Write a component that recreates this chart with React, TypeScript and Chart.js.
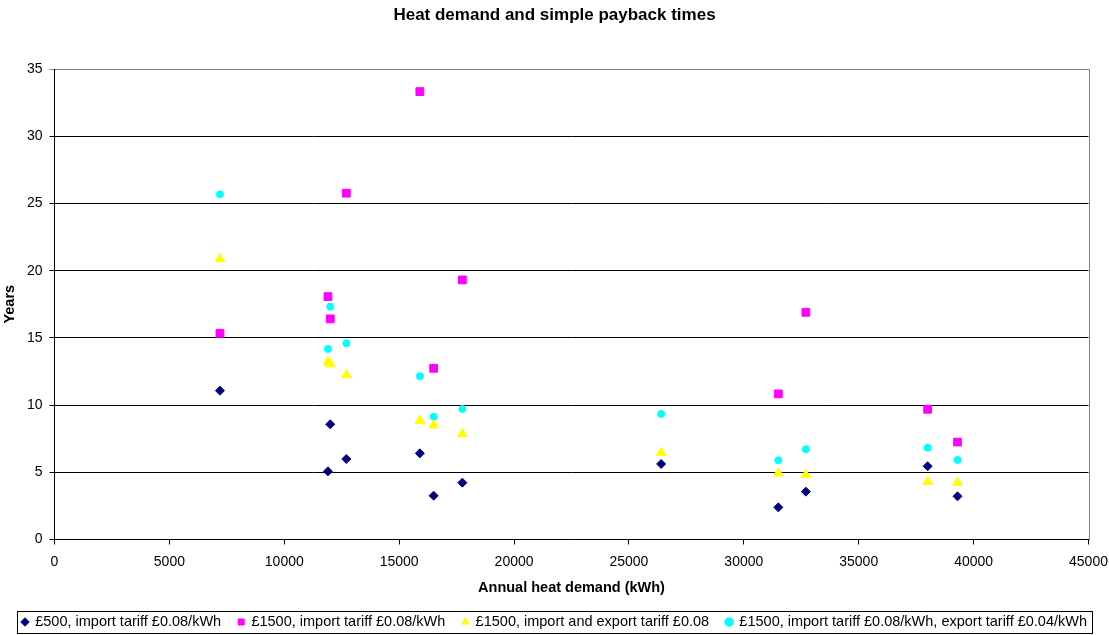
import React, { useEffect, useRef } from 'react';
import { Chart, registerables } from 'chart.js';

Chart.register(...registerables);

const heatDemand = [7200, 11900, 12000, 12700, 15900, 16500, 17750, 26400, 31500, 32700, 38000, 39300];
const payback500Import = [11.07, 5.07, 8.57, 5.99, 6.41, 3.26, 4.23, 5.62, 2.39, 3.56, 5.45, 3.21];
const payback1500Import = [15.34, 18.07, 16.41, 25.76, 33.32, 12.74, 19.31, null, 10.83, 16.9, 9.69, 7.25];
const payback1500ImportExport = [20.87, 13.2, 13.05, 12.24, 8.84, 8.5, 7.85, 6.46, 4.93, 4.8, 4.3, 4.23];
const payback1500ImportExport004 = [25.68, 14.17, 17.32, 14.6, 12.14, 9.14, 9.71, 9.34, 5.89, 6.71, 6.83, 5.92];

const seriesLabels = [
  '£500, import tariff £0.08/kWh',
  '£1500, import tariff £0.08/kWh',
  '£1500, import and export tariff £0.08',
  '£1500, import tariff £0.08/kWh, export tariff £0.04/kWh',
];

const chartTitle = 'Heat demand and simple payback times';
const xTitle = 'Annual heat demand (kWh)';
const yTitle = 'Years';
const xMin = 0, xMax = 45000, xStep = 5000;
const yMin = 0, yMax = 35, yStep = 5;

const FONT = '"Liberation Sans", Arial, sans-serif';

const toPoints = (ys: (number | null)[]) =>
  heatDemand.map((x, i) => ({ x, y: ys[i] })).filter((p) => p.y !== null);

const plotBorder = {
  id: 'plotBorder',
  beforeDatasetsDraw(chart: any) {
    const { ctx, chartArea } = chart;
    ctx.save();
    ctx.strokeStyle = '#808080';
    ctx.lineWidth = 1;
    const r = Math.round(chartArea.right) + 0.5;
    const t = Math.round(chartArea.top) + 0.5;
    ctx.beginPath();
    ctx.moveTo(Math.round(chartArea.left), t);
    ctx.lineTo(r, t);
    ctx.lineTo(r, Math.round(chartArea.bottom));
    ctx.stroke();
    ctx.restore();
  },
};

const legendBorder = {
  id: 'legendBorder',
  afterDraw(chart: any) {
    const lg = chart.legend;
    const hb = lg && lg.legendHitBoxes;
    if (!hb || !hb.length) return;
    let l = Infinity, r = -Infinity, t = Infinity, b = -Infinity;
    hb.forEach((h: any) => {
      l = Math.min(l, h.left);
      r = Math.max(r, h.left + h.width);
      t = Math.min(t, h.top);
      b = Math.max(b, h.top + h.height);
    });
    const { ctx } = chart;
    ctx.save();
    ctx.strokeStyle = '#000';
    ctx.lineWidth = 1;
    ctx.strokeRect(Math.round(l - 5) + 0.5, Math.round(t - 3.5) + 0.5, Math.round(r - l + 10), Math.round(b - t + 7));
    ctx.restore();
  },
};

export default function App() {
  const ref = useRef<HTMLCanvasElement | null>(null);

  useEffect(() => {
    if (!ref.current) return;
    const mk = (label: string, ys: (number | null)[], color: string, style: string, radius: number) => ({
      label,
      data: toPoints(ys),
      backgroundColor: color,
      borderColor: color,
      borderWidth: 1,
      pointStyle: style,
      pointRadius: radius,
      pointHoverRadius: radius,
      showLine: false,
    });
    const chart = new Chart(ref.current, {
      type: 'scatter',
      data: {
        datasets: [
          mk(seriesLabels[0], payback500Import, '#000080', 'rectRot', 4.5),
          mk(seriesLabels[1], payback1500Import, '#FF00FF', 'rect', 5.5),
          mk(seriesLabels[2], payback1500ImportExport, '#FFFF00', 'triangle', 5.5),
          mk(seriesLabels[3], payback1500ImportExport004, '#00FFFF', 'circle', 3.5),
        ] as any,
      },
      options: {
        animation: false,
        responsive: false,
        maintainAspectRatio: false,
        devicePixelRatio: 1,
        layout: { padding: { left: 0, right: 0, top: 0, bottom: -4.25 } },
        plugins: {
          title: {
            display: true,
            text: chartTitle,
            color: '#000',
            font: { family: FONT, size: 17, weight: 'bold' },
            padding: { top: 5, bottom: 43.6 },
          },
          legend: {
            position: 'bottom',
            labels: {
              usePointStyle: true,
              boxWidth: 6,
              boxHeight: 6,
              padding: 17,
              color: '#000',
              font: { family: FONT, size: 14.5 },
            },
          },
          tooltip: { enabled: false },
        },
        scales: {
          x: {
            type: 'linear',
            min: xMin,
            max: xMax,
            afterFit: (s: any) => { s.height = 58.25; s.paddingRight = 20.5; },
            ticks: {
              stepSize: xStep,
              color: '#000',
              font: { family: FONT, size: 14 },
              padding: 9,
              maxRotation: 0,
              callback: (v: any) => String(v),
            },
            grid: { drawOnChartArea: false, drawTicks: true, tickLength: 5, color: '#000' },
            border: { display: true, color: '#000', width: 1 },
            title: { display: true, text: xTitle, color: '#000', font: { family: FONT, size: 14.5, weight: 'bold' }, padding: { top: 4, bottom: 1 } },
          },
          y: {
            type: 'linear',
            min: yMin,
            max: yMax,
            afterFit: (s: any) => { s.width = 54.5; },
            ticks: { stepSize: yStep, color: '#000', font: { family: FONT, size: 14 }, padding: 7, callback: (v: any) => String(v) },
            grid: {
              drawOnChartArea: true,
              drawTicks: true,
              tickLength: 5,
              color: (c: any) => (c.tick && c.tick.value === yMax ? '#808080' : '#000'),
            },
            border: { display: true, color: '#000', width: 1 },
            title: { display: true, text: yTitle, color: '#000', font: { family: FONT, size: 14.5, weight: 'bold' }, padding: { top: 1, bottom: 0 } },
          },
        },
      } as any,
      plugins: [plotBorder, legendBorder],
    });
    return () => chart.destroy();
  }, []);

  return (
    <div style={{ position: 'absolute', left: 0, top: 0, width: 1109, height: 635, background: '#fff' }}>
      <canvas ref={ref} width={1109} height={635} style={{ display: 'block', width: 1109, height: 635 }} />
    </div>
  );
}
